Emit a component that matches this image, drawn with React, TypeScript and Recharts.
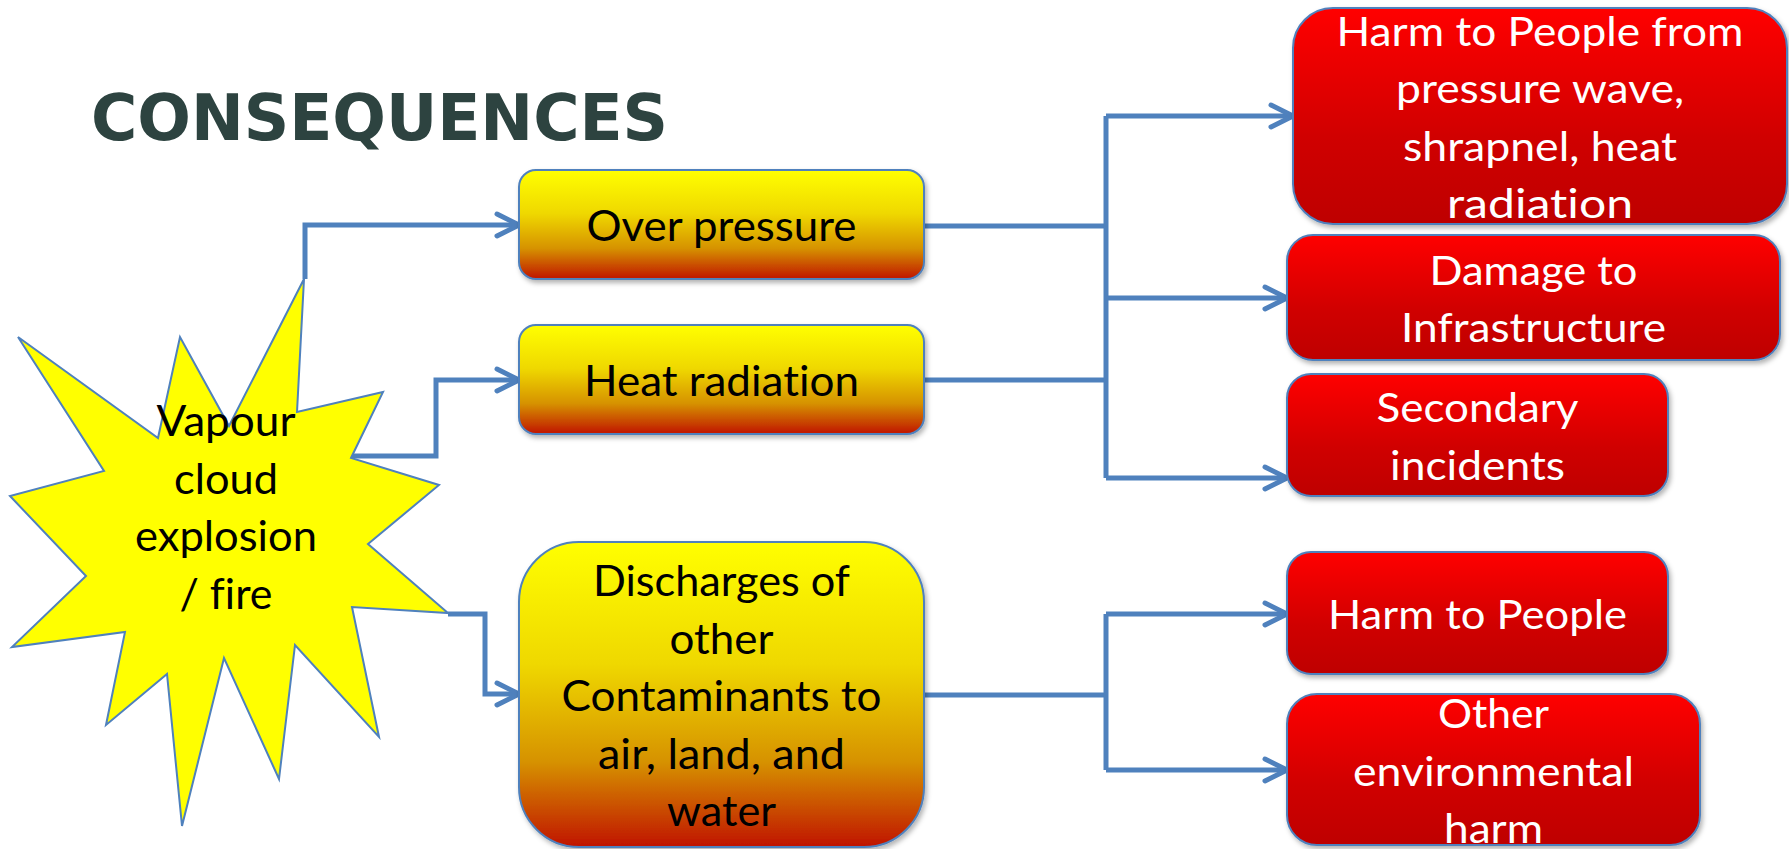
import React from "react";
import { ScatterChart, Scatter, XAxis, YAxis } from "recharts";

const W = 1789;
const H = 849;

// --- content ---
const heading = "CONSEQUENCES";
const eventLines = ["Vapour", "cloud", "explosion", "/ fire"];
const effectLines = [
  ["Over pressure"],
  ["Heat radiation"],
  ["Discharges of", "other", "Contaminants to", "air, land, and", "water"],
];
const outcomeLines = [
  ["Harm to People from", "pressure wave,", "shrapnel, heat", "radiation"],
  ["Damage to", "Infrastructure"],
  ["Secondary", "incidents"],
  ["Harm to People"],
  ["Other", "environmental", "harm"],
];

// --- layout, in chart units (axes run 0..W and 0..H) ---
const effectBoxes = [
  { x: 519, y: 170, w: 405, h: 109, r: 17 },
  { x: 519, y: 325, w: 405, h: 109, r: 17 },
  { x: 519, y: 542, w: 405, h: 305, r: 60 },
];
const outcomeBoxes = [
  { x: 1293, y: 8, w: 494, h: 216, r: 40 },
  { x: 1287, y: 235, w: 493, h: 125, r: 26 },
  { x: 1287, y: 374, w: 381, h: 122, r: 24 },
  { x: 1287, y: 552, w: 381, h: 122, r: 24 },
  { x: 1287, y: 694, w: 413, h: 151, r: 30 },
];
const starCenter = { x: 226, y: 506 };
const starOutline: [number, number][] = [
  [304, 279], [297, 412], [383, 392], [351, 458], [439, 485], [368, 544],
  [448, 613], [352, 607], [379, 737], [295, 645], [279, 779], [224, 658],
  [182, 826], [167, 674], [106, 725], [125, 632], [12, 647], [86, 576],
  [10, 496], [104, 471], [18, 337], [158, 438], [180, 337], [229, 426],
];
const links: [number, number][][] = [
  [[305, 279], [305, 225], [519, 225]],
  [[352, 456], [436, 456], [436, 380], [519, 380]],
  [[448, 614], [485, 614], [485, 694], [519, 694]],
  [[924, 226], [1106, 226]],
  [[924, 380], [1106, 380]],
  [[1106, 116], [1106, 478]],
  [[1106, 116], [1293, 116]],
  [[1106, 298], [1287, 298]],
  [[1106, 478], [1287, 478]],
  [[924, 695], [1106, 695]],
  [[1106, 614], [1106, 770]],
  [[1106, 614], [1287, 614]],
  [[1106, 770], [1287, 770]],
];
const arrowLinks = [0, 1, 2, 6, 7, 8, 11, 12];

// rendered line widths as measured on the picture
const lineWidth: Record<string, number> = {
  "Over pressure": 270, "Heat radiation": 275, "Discharges of": 257, other: 104,
  "Contaminants to": 320, "air, land, and": 247, water: 109,
  "Harm to People from": 407, "pressure wave,": 288, "shrapnel, heat": 274,
  radiation: 186, "Damage to": 208, Infrastructure: 265, Secondary: 202,
  incidents: 175, "Harm to People": 299, Other: 111, environmental: 281, harm: 99,
  Vapour: 139, cloud: 104, explosion: 182, "/ fire": 93, CONSEQUENCES: 577,
};

const BLUE = "#4F81BD";
const LINE_GAP = 57.5;
const FONT = "Lato, 'Open Sans', sans-serif";

const effectData = effectBoxes.map((b, i) => ({
  x: b.x + b.w / 2, y: b.y + b.h / 2, w: b.w, h: b.h, r: b.r, lines: effectLines[i],
}));
const outcomeData = outcomeBoxes.map((b, i) => ({
  x: b.x + b.w / 2, y: b.y + b.h / 2, w: b.w, h: b.h, r: b.r, lines: outcomeLines[i],
}));

function textBlock(lines: string[], cx: number, cy: number, off: number, size: number, color: string) {
  const n = lines.length;
  return lines.map((t, i) => (
    <text
      key={i}
      x={cx}
      y={cy + off + (i - (n - 1) / 2) * LINE_GAP}
      textAnchor="middle"
      fontFamily={FONT}
      fontSize={size}
      fill={color}
      textLength={lineWidth[t]}
      lengthAdjust="spacingAndGlyphs"
      style={{ fontVariantLigatures: "none" }}
    >
      {t}
    </text>
  ));
}

const Defs = () => (
  <defs>
    <linearGradient id="yellowFill" x1="0" y1="0" x2="0" y2="1">
      <stop offset="0" stopColor="#FFFF00" />
      <stop offset="0.4" stopColor="#EFD800" />
      <stop offset="0.72" stopColor="#D69200" />
      <stop offset="1" stopColor="#C01400" />
    </linearGradient>
    <linearGradient id="redFill" x1="0" y1="0" x2="0" y2="1">
      <stop offset="0" stopColor="#FF0000" />
      <stop offset="0.6" stopColor="#D00000" />
      <stop offset="1" stopColor="#BE0000" />
    </linearGradient>
    <filter id="dropShade" x="-10%" y="-10%" width="125%" height="130%">
      <feDropShadow dx="2" dy="3" stdDeviation="2.5" floodColor="#000" floodOpacity="0.3" />
    </filter>
  </defs>
);

const headingShape = (p: any) => (
  <g>
    <Defs />
    <text
      x={p.cx}
      y={p.cy}
      fontFamily="'DejaVu Sans', sans-serif"
      fontWeight="bold"
      fontSize={64}
      fill="#2D4340"
      textLength={lineWidth[heading]}
      lengthAdjust="spacingAndGlyphs"
    >
      {heading}
    </text>
  </g>
);

const starShape = (p: any) => {
  const pts = starOutline.map(([x, y]) => `${p.cx + (x - starCenter.x)},${p.cy + (y - starCenter.y)}`).join(" ");
  return (
    <g>
      <polygon points={pts} fill="#FFFF00" stroke={BLUE} strokeWidth={2} strokeLinejoin="miter" />
      {textBlock(eventLines, p.cx, p.cy, 16.5, 42, "#000")}
    </g>
  );
};

const boxShape = (fill: string, textColor: string, size: number, off: number) => (p: any) => {
  const { w, h, r, lines } = p.payload;
  return (
    <g>
      <rect
        x={p.cx - w / 2}
        y={p.cy - h / 2}
        width={w}
        height={h}
        rx={r}
        ry={r}
        fill={fill}
        stroke={BLUE}
        strokeWidth={2}
        filter="url(#dropShade)"
      />
      {textBlock(lines, p.cx, p.cy, off, size, textColor)}
    </g>
  );
};

const linkShape = (p: any) => {
  if (!p.payload.arrow) return <g />;
  return (
    <polyline
      points={`${p.cx - 22},${p.cy - 11} ${p.cx},${p.cy} ${p.cx - 22},${p.cy + 11}`}
      fill="none"
      stroke={BLUE}
      strokeWidth={5}
      strokeLinecap="round"
      strokeLinejoin="round"
    />
  );
};

export default function App() {
  return (
    <div style={{ position: "absolute", left: 0, top: 0, width: W, height: H, background: "#fff" }}>
      <ScatterChart width={W} height={H} margin={{ top: 0, right: 0, bottom: 0, left: 0 }}>
        <XAxis type="number" dataKey="x" domain={[0, W]} allowDataOverflow hide />
        <YAxis type="number" dataKey="y" domain={[0, H]} allowDataOverflow reversed hide />
        <Scatter data={[{ x: 91, y: 140 }]} shape={headingShape} isAnimationActive={false} />
        {links.map((pts, i) => (
          <Scatter
            key={`link-${i}`}
            data={pts.map(([x, y], j) => ({ x, y, arrow: arrowLinks.includes(i) && j === pts.length - 1 }))}
            fill={BLUE}
            line={{ stroke: BLUE, strokeWidth: 5, strokeLinejoin: "miter", fill: "none" }}
            lineType="joint"
            shape={linkShape}
            isAnimationActive={false}
          />
        ))}
        <Scatter data={[starCenter]} shape={starShape} isAnimationActive={false} />
        <Scatter data={effectData} shape={boxShape("url(#yellowFill)", "#000", 42, 16.5)} isAnimationActive={false} />
        <Scatter data={outcomeData} shape={boxShape("url(#redFill)", "#fff", 40, 16)} isAnimationActive={false} />
      </ScatterChart>
    </div>
  );
}
